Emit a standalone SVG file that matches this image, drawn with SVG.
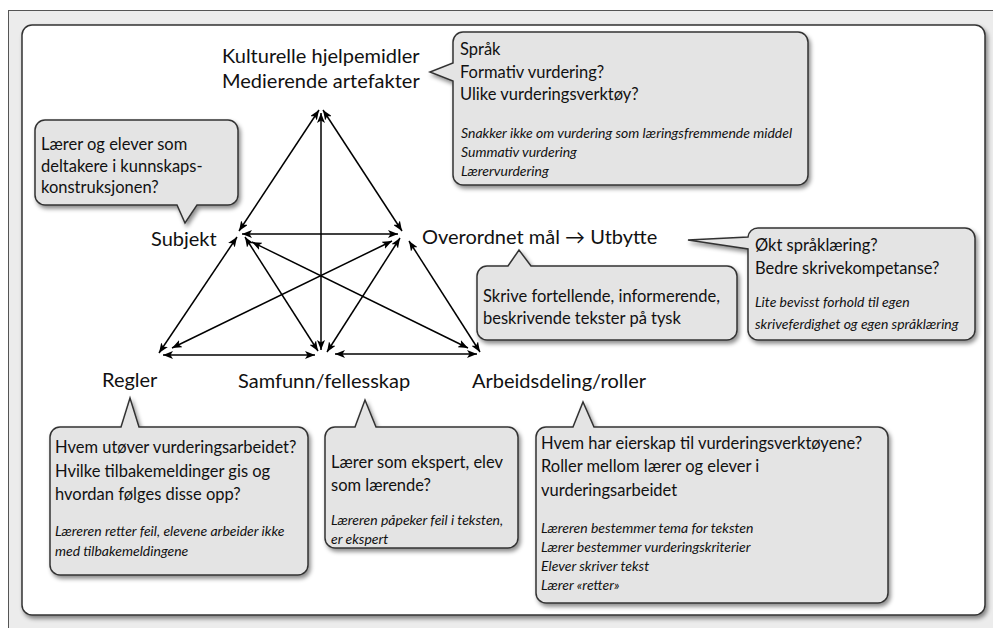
<svg xmlns="http://www.w3.org/2000/svg" width="993" height="628" viewBox="0 0 993 628">
<defs>
<style>
.t{font-family:Lato,"Noto Sans",sans-serif;fill:#111;}
.h{font-size:20px;}
.b{font-size:16.5px;}
.i{font-size:14px;font-style:italic;}
.bub{fill:#e4e4e4;stroke:#333;stroke-width:1.5;filter:url(#sh);}
.ar{stroke:#000;stroke-width:1.5;fill:none;marker-start:url(#ah);marker-end:url(#ah);}
</style>
<filter id="sh" x="-10%" y="-10%" width="125%" height="130%">
<feDropShadow dx="2" dy="3" stdDeviation="2" flood-color="#000" flood-opacity="0.45"/>
</filter>
<marker id="ah" markerUnits="userSpaceOnUse" markerWidth="10" markerHeight="8" refX="10" refY="4" orient="auto-start-reverse">
<path d="M0,0 L10,4 L0,8 L2.5,4 z" fill="#000"/>
</marker>
</defs>
<rect x="0" y="0" width="993" height="628" fill="#fff"/>
<rect x="8.5" y="10.5" width="990" height="630" fill="#ececec" stroke="#555" stroke-width="1"/>
<rect x="22" y="25" width="963" height="590" rx="10" fill="#fff" stroke="#333" stroke-width="1.5" filter="url(#sh)"/>

<g id="connectors">
<line class="ar" x1="319" y1="110" x2="239" y2="231"/>
<line class="ar" x1="323" y1="110" x2="402" y2="231"/>
<line class="ar" x1="321" y1="113" x2="321" y2="350"/>
<line class="ar" x1="242" y1="234" x2="398" y2="234"/>
<line class="ar" x1="237" y1="237" x2="159" y2="353"/>
<line class="ar" x1="245" y1="237" x2="318" y2="351"/>
<line class="ar" x1="252" y1="242" x2="468" y2="348"/>
<line class="ar" x1="392" y1="241" x2="172" y2="348"/>
<line class="ar" x1="400" y1="238" x2="327" y2="352"/>
<line class="ar" x1="409" y1="241" x2="480" y2="352"/>
<line class="ar" x1="163" y1="355" x2="315" y2="355"/>
<line class="ar" x1="335" y1="354" x2="477" y2="354"/>
</g>

<g id="node-kulturelle">
<text class="t h" x="222" y="63">Kulturelle hjelpemidler</text>
<text class="t h" x="222" y="88">Medierende artefakter</text>
</g>
<g id="node-subjekt"><text class="t h" x="151" y="246">Subjekt</text></g>
<g id="node-overordnet"><text class="t h" x="422" y="244">Overordnet mål → Utbytte</text></g>
<g id="node-regler"><text class="t h" x="102" y="387">Regler</text></g>
<g id="node-samfunn"><text class="t h" x="238" y="388">Samfunn/fellesskap</text></g>
<g id="node-arbeidsdeling"><text class="t h" x="472" y="388">Arbeidsdeling/roller</text></g>

<g id="bubble-sprak">
<path class="bub" d="M463,32 L798,32 A10,10 0 0 1 808,42 L808,175 A10,10 0 0 1 798,185 L463,185 A10,10 0 0 1 453,175 L453,81 L430,72 L453,63 L453,42 A10,10 0 0 1 463,32 Z"/>
<text class="t b" x="460" y="55">Språk</text>
<text class="t b" x="460" y="78">Formativ vurdering?</text>
<text class="t b" x="460" y="100">Ulike vurderingsverktøy?</text>
<text class="t i" x="461" y="138">Snakker ikke om vurdering som læringsfremmende middel</text>
<text class="t i" x="461" y="157">Summativ vurdering</text>
<text class="t i" x="461" y="176">Lærervurdering</text>
</g>

<g id="bubble-laerer">
<path class="bub" d="M45,120 L228,120 A10,10 0 0 1 238,130 L238,195 A10,10 0 0 1 228,205 L197,205 L185,223 L177,205 L45,205 A10,10 0 0 1 35,195 L35,130 A10,10 0 0 1 45,120 Z"/>
<text class="t b" x="41" y="150">Lærer og elever som</text>
<text class="t b" x="41" y="172">deltakere i kunnskaps-</text>
<text class="t b" x="41" y="193">konstruksjonen?</text>
</g>

<g id="bubble-skrive">
<path class="bub" d="M487,266 L508,266 L519,250 L531,266 L727,266 A10,10 0 0 1 737,276 L737,330 A10,10 0 0 1 727,340 L487,340 A10,10 0 0 1 477,330 L477,276 A10,10 0 0 1 487,266 Z"/>
<text class="t b" x="483" y="302">Skrive fortellende, informerende,</text>
<text class="t b" x="483" y="324">beskrivende tekster på tysk</text>
</g>

<g id="bubble-okt">
<path class="bub" d="M758,228 L965,228 A10,10 0 0 1 975,238 L975,330 A10,10 0 0 1 965,340 L758,340 A10,10 0 0 1 748,330 L748,249 L688,240 L748,237 A10,10 0 0 1 758,228 Z"/>
<text class="t b" x="755" y="251">Økt språklæring?</text>
<text class="t b" x="755" y="274">Bedre skrivekompetanse?</text>
<text class="t i" x="755" y="307">Lite bevisst forhold til egen</text>
<text class="t i" x="755" y="329">skriveferdighet og egen språklæring</text>
</g>

<g id="bubble-regler">
<path class="bub" d="M60,427 L121,427 L130,398 L139,427 L298,427 A10,10 0 0 1 308,437 L308,565 A10,10 0 0 1 298,575 L60,575 A10,10 0 0 1 50,565 L50,437 A10,10 0 0 1 60,427 Z"/>
<text class="t b" x="55" y="453">Hvem utøver vurderingsarbeidet?</text>
<text class="t b" x="55" y="477">Hvilke tilbakemeldinger gis og</text>
<text class="t b" x="55" y="500">hvordan følges disse opp?</text>
<text class="t i" x="55" y="536">Læreren retter feil, elevene arbeider ikke</text>
<text class="t i" x="55" y="556">med tilbakemeldingene</text>
</g>

<g id="bubble-samfunn">
<path class="bub" d="M335,427 L355,427 L365,400 L376,427 L508,427 A10,10 0 0 1 518,437 L518,538 A10,10 0 0 1 508,548 L335,548 A10,10 0 0 1 325,538 L325,437 A10,10 0 0 1 335,427 Z"/>
<text class="t b" x="331" y="468">Lærer som ekspert, elev</text>
<text class="t b" x="331" y="491">som lærende?</text>
<text class="t i" x="331" y="525">Læreren påpeker feil i teksten,</text>
<text class="t i" x="331" y="544">er ekspert</text>
</g>

<g id="bubble-arbeid">
<path class="bub" d="M546,427 L573,427 L583,402 L594,427 L878,427 A10,10 0 0 1 888,437 L888,593 A10,10 0 0 1 878,603 L546,603 A10,10 0 0 1 536,593 L536,437 A10,10 0 0 1 546,427 Z"/>
<text class="t b" x="541" y="449">Hvem har eierskap til vurderingsverktøyene?</text>
<text class="t b" x="541" y="472">Roller mellom lærer og elever i</text>
<text class="t b" x="541" y="496">vurderingsarbeidet</text>
<text class="t i" x="541" y="533">Læreren bestemmer tema for teksten</text>
<text class="t i" x="541" y="552">Lærer bestemmer vurderingskriterier</text>
<text class="t i" x="541" y="571">Elever skriver tekst</text>
<text class="t i" x="541" y="590">Lærer «retter»</text>
</g>
</svg>
